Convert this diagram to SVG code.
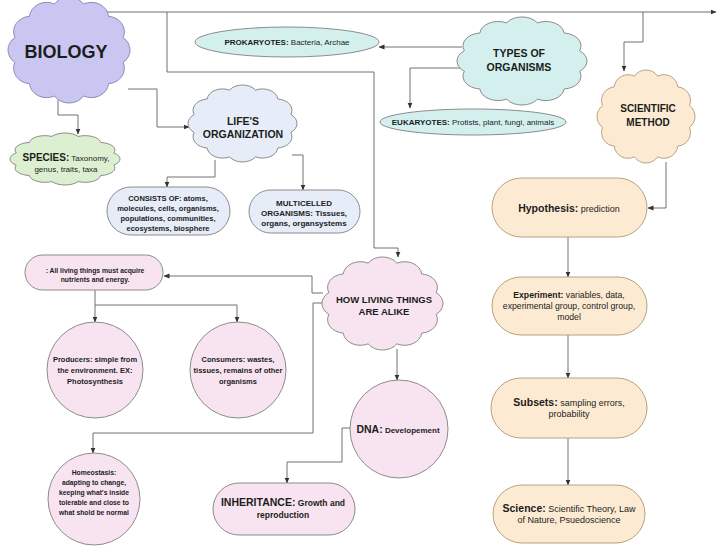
<svg xmlns="http://www.w3.org/2000/svg" xmlns:xlink="http://www.w3.org/1999/xlink" width="720" height="556" viewBox="0 0 720 556">
<style>
text{font-family:"Liberation Sans",Arial,sans-serif;fill:#1c1c1c;text-anchor:middle}
.node{stroke:#8c8c8c;stroke-width:1}
.lav{fill:#c9c7f2;stroke:#8e8bb8}
.teal{fill:#d3f0ee}
.grn{fill:#dcefd0}
.blu{fill:#e6edf8}
.org{fill:#fcebd2;stroke:#b8a27e}
.pnk{fill:#f8e4f0}
.b{font-weight:bold}
.conn path{fill:none;stroke:#707070;stroke-width:1}
</style>
<defs>
<path id="cloud" vector-effect="non-scaling-stroke" d="M90.6,39.6 A13,13 0 0 1 90.6,60.4 A13,13 0 0 1 79.7,78.3 A13,13 0 0 1 60.9,88.6 A13,13 0 0 1 39.1,88.6 A13,13 0 0 1 20.3,78.3 A13,13 0 0 1 9.4,60.4 A13,13 0 0 1 9.4,39.6 A13,13 0 0 1 20.3,21.7 A13,13 0 0 1 39.1,11.4 A13,13 0 0 1 60.9,11.4 A13,13 0 0 1 79.7,21.7 A13,13 0 0 1 90.6,39.6 Z"/>
<marker id="arr" markerWidth="6" markerHeight="6" refX="5.5" refY="3" orient="auto" markerUnits="userSpaceOnUse">
<path d="M0,0.5 L6,3 L0,5.5 Z" fill="#333"/>
</marker>
</defs>

<g class="conn">
<path d="M98,12 H716" marker-end="url(#arr)"/>
<path d="M167,12 V72 H374 V248 H398 V257" marker-end="url(#arr)"/>
<path d="M643,12 V42 H624 V71" marker-end="url(#arr)"/>
<path d="M58,100 V115 H78 V134" marker-end="url(#arr)"/>
<path d="M128,89 H157 V127 H189" marker-end="url(#arr)"/>
<path d="M462,47 H379" marker-end="url(#arr)"/>
<path d="M466,68 H410 V108" marker-end="url(#arr)"/>
<path d="M666,162 V208 H648" marker-end="url(#arr)"/>
<path d="M568,237 V277" marker-end="url(#arr)"/>
<path d="M568,335 V378" marker-end="url(#arr)"/>
<path d="M568,438 V485" marker-end="url(#arr)"/>
<path d="M215,160 V177 H167 V187" marker-end="url(#arr)"/>
<path d="M292,155 H303 V190" marker-end="url(#arr)"/>
<path d="M323,293 H312 V276 H164" marker-end="url(#arr)"/>
<path d="M323,303 H313 V433 H93 V453" marker-end="url(#arr)"/>
<path d="M95,290 V322" marker-end="url(#arr)"/>
<path d="M95,305 H237 V322" marker-end="url(#arr)"/>
<path d="M397,349 V380" marker-end="url(#arr)"/>
<path d="M350,428 H342 V462 H287 V483" marker-end="url(#arr)"/>
</g>

<g id="biology">
<use href="#cloud" class="node lav" transform="translate(2.4,-9.55) scale(1.332,1.191)"/>
<text x="66" y="58" class="b" font-size="18">BIOLOGY</text>
</g>

<g id="prokaryotes">
<ellipse cx="287" cy="42" rx="92" ry="15" class="node teal"/>
<text x="287" y="45" font-size="8"><tspan class="b">PROKARYOTES:</tspan> Bacteria, Archae</text>
</g>

<g id="types">
<use href="#cloud" class="node teal" transform="translate(451.04,11.56) scale(1.419,0.989)"/>
<text x="519" y="57" class="b" font-size="10.5">TYPES OF</text>
<text x="519" y="71" class="b" font-size="10.5">ORGANISMS</text>
</g>

<g id="eukaryotes">
<ellipse cx="473" cy="122" rx="93" ry="13" class="node teal"/>
<text x="473" y="125" font-size="8"><tspan class="b">EUKARYOTES:</tspan> Protists, plant, fungi, animals</text>
</g>

<g id="scientific">
<use href="#cloud" class="node org" transform="translate(592.51,64.25) scale(1.07,1.045)"/>
<text x="648" y="112" class="b" font-size="10">SCIENTIFIC</text>
<text x="648" y="126" class="b" font-size="10">METHOD</text>
</g>

<g id="species">
<use href="#cloud" class="node grn" transform="translate(4.96,129.79) scale(1.201,0.584)"/>
<text x="66" y="161" font-size="8"><tspan class="b" font-size="10">SPECIES:</tspan> Taxonomy,</text>
<text x="66" y="172" font-size="8">genus, traits, taxa</text>
</g>

<g id="lifes">
<use href="#cloud" class="node blu" transform="translate(183,80.24) scale(1.19,0.865)"/>
<text x="243" y="125" class="b" font-size="10.5">LIFE'S</text>
<text x="243" y="138" class="b" font-size="10.5">ORGANIZATION</text>
</g>

<g id="consists">
<rect x="107" y="187" width="123" height="48" rx="24" class="node blu"/>
<text x="168" y="201" class="b" font-size="7.5">CONSISTS OF: atoms,</text>
<text x="168" y="211" class="b" font-size="7.5">molecules, cells, organisms,</text>
<text x="168" y="221" class="b" font-size="7.5">populations, communities,</text>
<text x="168" y="231" class="b" font-size="7.5">ecosystems, biosphere</text>
</g>

<g id="multicelled">
<rect x="249" y="190" width="111" height="43" rx="21.5" class="node blu"/>
<text x="304" y="206" class="b" font-size="8">MULTICELLED</text>
<text x="304" y="216" class="b" font-size="8">ORGANISMS: Tissues,</text>
<text x="304" y="226" class="b" font-size="8">organs, organsystems</text>
</g>

<g id="allliving">
<rect x="25" y="255" width="138" height="35" rx="17.5" class="node pnk"/>
<text x="95" y="272.5" class="b" font-size="6.8">: All living things must acquire</text>
<text x="95" y="281.5" class="b" font-size="6.8">nutrients and energy.</text>
</g>

<g id="producers">
<circle cx="95" cy="370" r="48" class="node pnk"/>
<text x="95" y="362" class="b" font-size="7.5">Producers: simple from</text>
<text x="95" y="373" class="b" font-size="7.5">the environment. EX:</text>
<text x="95" y="384" class="b" font-size="7.5">Photosynthesis</text>
</g>

<g id="consumers">
<circle cx="238" cy="370" r="48" class="node pnk"/>
<text x="238" y="362" class="b" font-size="7.5">Consumers: wastes,</text>
<text x="238" y="373" class="b" font-size="7.5">tissues, remains of other</text>
<text x="238" y="384" class="b" font-size="7.5">organisms</text>
</g>

<g id="howliving">
<use href="#cloud" class="node pnk" transform="translate(316.45,251.25) scale(1.321,1.045)"/>
<text x="384" y="303" class="b" font-size="9.5">HOW LIVING THINGS</text>
<text x="384" y="315" class="b" font-size="9.5">ARE ALIKE</text>
</g>

<g id="dna">
<circle cx="399" cy="429" r="49" class="node pnk"/>
<text x="398" y="433" class="b" font-size="8"><tspan font-size="10.5">DNA:</tspan> Developement</text>
</g>

<g id="homeostasis">
<circle cx="94" cy="499" r="46" class="node pnk"/>
<text x="94" y="474.5" class="b" font-size="6.8">Homeostasis:</text>
<text x="94" y="484.5" class="b" font-size="6.8">adapting to change,</text>
<text x="94" y="494.5" class="b" font-size="6.8">keeping what's inside</text>
<text x="94" y="504.5" class="b" font-size="6.8">tolerable and close to</text>
<text x="94" y="514.5" class="b" font-size="6.8">what shold be normal</text>
</g>

<g id="inheritance">
<rect x="213" y="483" width="142" height="52" rx="26" class="node pnk"/>
<text x="283" y="505.5" class="b" font-size="8.5"><tspan font-size="10.5">INHERITANCE:</tspan> Growth and</text>
<text x="283" y="518" class="b" font-size="8.5">reproduction</text>
</g>

<g id="hypothesis">
<rect x="492" y="178" width="155" height="59" rx="29.5" class="node org"/>
<text x="569" y="211.5" font-size="9"><tspan class="b" font-size="10.5">Hypothesis:</tspan> prediction</text>
</g>

<g id="experiment">
<rect x="492" y="277" width="155" height="58" rx="29" class="node org"/>
<text x="569" y="298" font-size="8.7"><tspan class="b">Experiment:</tspan> variables, data,</text>
<text x="569" y="309" font-size="8.7">experimental group, control group,</text>
<text x="569" y="320" font-size="8.7">model</text>
</g>

<g id="subsets">
<rect x="491" y="378" width="156" height="60" rx="30" class="node org"/>
<text x="569" y="405.5" font-size="9"><tspan class="b" font-size="10.5">Subsets:</tspan> sampling errors,</text>
<text x="569" y="417" font-size="9">probability</text>
</g>

<g id="science">
<rect x="493" y="485" width="152" height="58" rx="29" class="node org"/>
<text x="569" y="511.5" font-size="9"><tspan class="b" font-size="10.5">Science:</tspan> Scientific Theory, Law</text>
<text x="569" y="523" font-size="9">of Nature, Psuedoscience</text>
</g>
</svg>
